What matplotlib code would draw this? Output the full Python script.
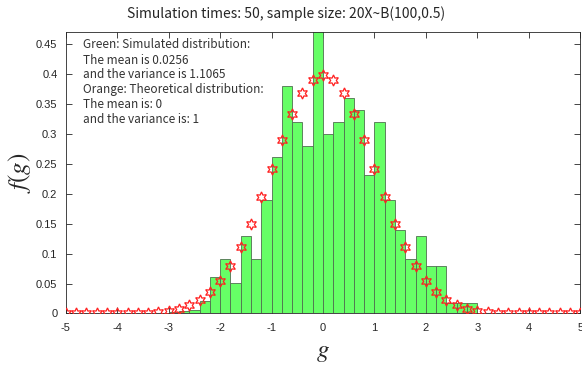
import numpy as np
import matplotlib
matplotlib.use('Agg')
import matplotlib.pyplot as plt

# histogram of simulated g (bin left edges, width 0.2) -- density values
bin_left = [-3.0, -2.8, -2.6, -2.4, -2.2, -2.0, -1.8, -1.6, -1.4, -1.2,
            -1.0, -0.8, -0.6, -0.4, -0.2, 0.0, 0.2, 0.4, 0.6, 0.8,
            1.0, 1.2, 1.4, 1.6, 1.8, 2.0, 2.2, 2.4, 2.6, 2.8]
sim_density = [0.003, 0.004, 0.005, 0.020, 0.061, 0.091, 0.051, 0.130, 0.091, 0.190,
               0.261, 0.380, 0.320, 0.280, 0.475, 0.300, 0.320, 0.360, 0.340, 0.231,
               0.320, 0.190, 0.140, 0.091, 0.130, 0.080, 0.080, 0.017, 0.017, 0.017]

# theoretical points (red stars)
theo_x = [-5.0, -4.8, -4.6, -4.4, -4.2, -4.0, -3.8, -3.6, -3.4, -3.2,
          -3.0, -2.8, -2.6, -2.4, -2.2, -2.0, -1.8, -1.6, -1.4, -1.2,
          -1.0, -0.8, -0.6, -0.4, -0.2, 0.0, 0.2, 0.4, 0.6, 0.8,
          1.0, 1.2, 1.4, 1.6, 1.8, 2.0, 2.2, 2.4, 2.6, 2.8,
          3.0, 3.2, 3.4, 3.6, 3.8, 4.0, 4.2, 4.4, 4.6, 4.8, 5.0]
theo_y = [0.0000, 0.0000, 0.0000, 0.0000, 0.0001, 0.0001, 0.0003, 0.0006, 0.0012, 0.0024,
          0.0044, 0.0079, 0.0136, 0.0224, 0.0355, 0.0540, 0.0790, 0.1109, 0.1497, 0.1942,
          0.2420, 0.2897, 0.3332, 0.3683, 0.3910, 0.3989, 0.3910, 0.3683, 0.3332, 0.2897,
          0.2420, 0.1942, 0.1497, 0.1109, 0.0790, 0.0540, 0.0355, 0.0224, 0.0136, 0.0079,
          0.0044, 0.0024, 0.0012, 0.0006, 0.0003, 0.0001, 0.0001, 0.0000, 0.0000, 0.0000, 0.0000]

info_lines = ['Green: Simulated distribution:',
              'The mean is 0.0256',
              'and the variance is 1.1065',
              'Orange: Theoretical distribution:',
              'The mean is: 0',
              'and the variance is: 1']

plt.rcParams['mathtext.fontset'] = 'stix'

fig = plt.figure(figsize=(5.82, 3.67), dpi=100)
ax = fig.add_axes([0.113, 0.146, 0.884, 0.766])

ax.bar(bin_left, sim_density, width=0.2, align='edge', color='#66ff66',
       edgecolor='#4f6f4f', linewidth=0.6, zorder=2)
ax.plot(theo_x, theo_y, linestyle='none', marker=(6, 1, 0), markersize=8,
        markerfacecolor='none', markeredgecolor='#ff2020', markeredgewidth=0.9, zorder=3)

ax.set_xlim(-5, 5)
ax.set_ylim(0, 0.47)
ax.set_xticks(np.arange(-5, 6, 1))
ax.set_xticklabels([str(v) for v in range(-5, 6)])
yt = [0, 0.05, 0.1, 0.15, 0.2, 0.25, 0.3, 0.35, 0.4, 0.45]
ax.set_yticks(yt)
ax.set_yticklabels(['0', '0.05', '0.1', '0.15', '0.2', '0.25', '0.3', '0.35', '0.4', '0.45'])
ax.tick_params(direction='in', top=True, right=True, length=4, width=0.6,
               labelsize=8, colors='#262626')
ax.tick_params(axis='x', pad=7)
ax.tick_params(axis='y', pad=6)
for lab in ax.get_xticklabels() + ax.get_yticklabels():
    lab.set_family('Liberation Sans')
for s in ax.spines.values():
    s.set_color('#262626')
    s.set_linewidth(0.6)

ax.set_xlabel('$g$', fontsize=18, color='#262626', labelpad=5)
ax.set_ylabel('$f(g)$', fontsize=18, color='#262626', labelpad=2)

fig.text(0.491, 0.962, 'Simulation times: 50, sample size: 20X~B(100,0.5)',
         ha='center', va='center', fontsize=10, color='#262626',
         family=['Noto Sans CJK SC', 'DejaVu Sans'])

for i, line in enumerate(info_lines):
    fig.text(83 / 582, 1 - (45 + 15 * i) / 367, line, ha='left', va='center',
             fontsize=8.5, color='#333333', family=['Noto Sans CJK SC', 'DejaVu Sans'])

fig.savefig('out.png', dpi=100)
